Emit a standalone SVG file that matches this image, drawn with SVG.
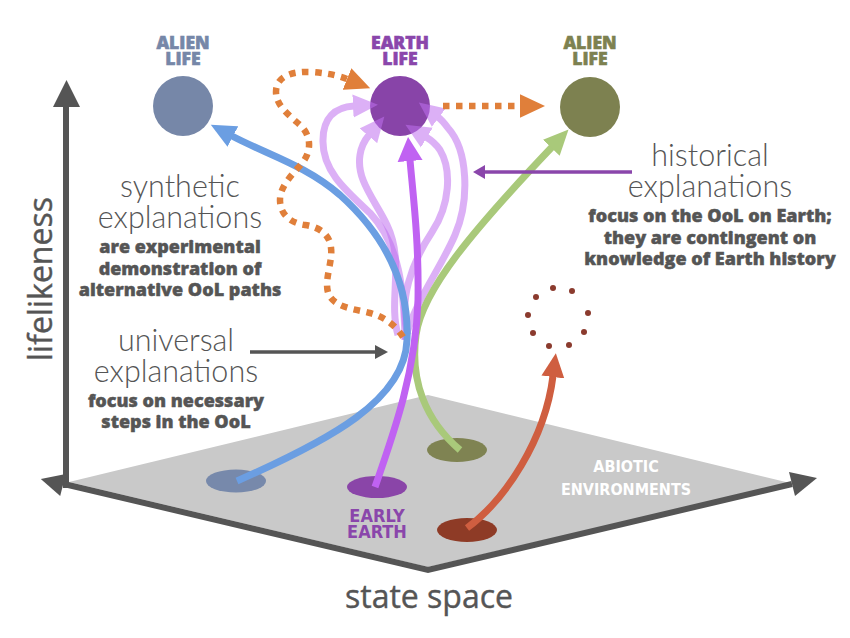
<svg xmlns="http://www.w3.org/2000/svg" width="850" height="638" viewBox="0 0 850 638">
<defs>
<style>
.light{font-family:"Lato","Open Sans","Liberation Sans",sans-serif;font-weight:300;font-size:30.5px;fill:#555;text-anchor:middle}
.heavy{font-family:"Open Sans","Noto Sans","Liberation Sans",sans-serif;font-weight:800;font-size:18px;fill:#555;stroke:#555;stroke-width:0.45px;text-anchor:middle}
.cap{font-family:"Open Sans","Noto Sans","Liberation Sans",sans-serif;font-weight:900;font-size:17.5px;stroke-width:0.6px;text-anchor:middle}
.cond{font-family:"DejaVu Sans Condensed","DejaVu Sans","Liberation Sans",sans-serif;font-stretch:condensed;font-weight:bold;text-anchor:middle}
.axis-label{font-family:"Open Sans","Noto Sans","Liberation Sans",sans-serif;font-weight:500;font-size:32px;fill:#555;stroke:#555;stroke-width:0.4px;text-anchor:middle}
.conn{fill:none;stroke-width:7}
.lav{opacity:.55}
.dotted{fill:none;stroke:#e07f3a;stroke-width:6.5;stroke-dasharray:6.5 6.5}
.axis{fill:none;stroke:#555;stroke-width:6}
</style>
<marker id="ah-blue" viewBox="0 -12 26 24" markerWidth="26" markerHeight="24" refX="1" refY="0" orient="auto" markerUnits="userSpaceOnUse"><path d="M0,-11.5 L25,0 L0,11.5 Z" fill="#6b9ee2"/></marker>
<marker id="ah-green" viewBox="0 -12 26 24" markerWidth="26" markerHeight="24" refX="1" refY="0" orient="auto" markerUnits="userSpaceOnUse"><path d="M0,-11.5 L25,0 L0,11.5 Z" fill="#a9c97a"/></marker>
<marker id="ah-violet" viewBox="0 -13 26 26" markerWidth="26" markerHeight="26" refX="1" refY="0" orient="auto" markerUnits="userSpaceOnUse"><path d="M0,-12.5 L24,0 L0,12.5 Z" fill="#c062f2"/></marker>
<marker id="ah-lav" viewBox="0 -12 26 24" markerWidth="26" markerHeight="24" refX="1" refY="0" orient="auto" markerUnits="userSpaceOnUse"><path d="M0,-11.5 L25,0 L0,11.5 Z" fill="#c070f0"/></marker>
<marker id="ah-red" viewBox="0 -12 26 24" markerWidth="26" markerHeight="24" refX="1" refY="0" orient="auto" markerUnits="userSpaceOnUse"><path d="M0,-11.5 L24,0 L0,11.5 Z" fill="#cf5e40"/></marker>
<marker id="ah-orange" viewBox="0 -12 26 24" markerWidth="26" markerHeight="24" refX="0" refY="0" orient="auto" markerUnits="userSpaceOnUse"><path d="M0,-11.7 L25,0 L0,11.7 Z" fill="#e07f3a"/></marker>
<marker id="ah-gray" viewBox="0 -8 14 16" markerWidth="14" markerHeight="16" refX="1" refY="0" orient="auto" markerUnits="userSpaceOnUse"><path d="M0,-7 L13,0 L0,7 Z" fill="#555"/></marker>
<marker id="ah-purple" viewBox="0 -8 14 16" markerWidth="14" markerHeight="16" refX="1" refY="0" orient="auto" markerUnits="userSpaceOnUse"><path d="M0,-7 L12,0 L0,7 Z" fill="#8a46ab"/></marker>
</defs>
<rect width="850" height="638" fill="#fff"/>

<g id="state-space-plane">
<polygon points="69,482 428,395 790,483 428,567" fill="#c9c9c9"/>
</g>

<g id="axes">
<path class="axis" d="M66,488 L66,105"/>
<polygon points="53,107 66.5,80 80,107" fill="#555"/>
<path class="axis" d="M64,484 L428,570 L792,484"/>
<polygon points="65.8,474 40.8,479 60.2,496" fill="#555"/>
<polygon points="789,472 817,478 795,496" fill="#555"/>
<text class="axis-label" transform="translate(52,279) rotate(-90)">lifelikeness</text>
<text class="axis-label" x="429" y="608">state space</text>
</g>

<g id="node-abiotic-environments">
<text class="cond" font-size="16" fill="#fff" x="626" y="472">ABIOTIC<tspan x="626" dy="23">ENVIRONMENTS</tspan></text>
</g>

<g id="node-env-alien-1"><ellipse cx="236" cy="481" rx="30" ry="11.5" fill="#7789ab"/></g>
<g id="node-early-earth">
<ellipse cx="377" cy="487" rx="30" ry="11" fill="#8a45a8"/>
<text class="cond" font-size="18" fill="#8a46ab" x="377" y="522">EARLY<tspan x="377" dy="16">EARTH</tspan></text>
</g>
<g id="node-env-alien-2"><ellipse cx="457" cy="450" rx="30" ry="12" fill="#7f8352"/></g>
<g id="node-env-abiotic"><ellipse cx="467" cy="530" rx="30" ry="12" fill="#8e3b26"/></g>

<g id="node-alien-life-left">
<text class="cap" fill="#7687a8" stroke="#7687a8" x="183" y="49">ALIEN<tspan x="183" dy="16">LIFE</tspan></text>
<circle cx="183" cy="106" r="30" fill="#7687a8"/>
</g>
<g id="node-earth-life">
<text class="cap" fill="#8a46ab" stroke="#8a46ab" x="400" y="49">EARTH<tspan x="400" dy="16">LIFE</tspan></text>
<circle cx="400" cy="106" r="30" fill="#8844a8"/>
</g>
<g id="node-alien-life-right">
<text class="cap" fill="#7d8150" stroke="#7d8150" x="590" y="49">ALIEN<tspan x="590" dy="16">LIFE</tspan></text>
<circle cx="590" cy="107" r="30" fill="#7d8150"/>
</g>

<g id="node-no-life">
<g fill="#8b3b2e">
<circle cx="553" cy="288" r="3"/><circle cx="572" cy="291" r="3"/><circle cx="536" cy="297" r="3"/>
<circle cx="588" cy="313" r="3"/><circle cx="528" cy="315" r="3"/><circle cx="584" cy="332" r="3"/>
<circle cx="533" cy="333" r="3"/><circle cx="549" cy="346" r="3"/><circle cx="569" cy="345" r="3"/>
</g>
</g>

<g id="node-synthetic">
<text class="light" x="180" y="197">synthetic<tspan x="180" dy="31">explanations</tspan></text>
<text class="heavy" x="180" y="253">are experimental<tspan x="180" dy="21.5">demonstration of</tspan><tspan x="180" dy="21.5">alternative OoL paths</tspan></text>
</g>
<g id="node-universal">
<text class="light" x="176" y="351">universal<tspan x="176" dy="31">explanations</tspan></text>
<text class="heavy" x="176" y="407">focus on necessary<tspan x="176" dy="21">steps in the OoL</tspan></text>
</g>
<g id="node-historical">
<text class="light" x="710" y="166">historical<tspan x="710" dy="31">explanations</tspan></text>
<text class="heavy" x="710" y="222">focus on the OoL on Earth;<tspan x="710" dy="21.5">they are contingent on</tspan><tspan x="710" dy="21.5">knowledge of Earth history</tspan></text>
</g>

<g id="connectors">
<g class="lav"><path class="conn" stroke="#c070f0" marker-end="url(#ah-lav)" d="M405,340 C404,290 400,245 370,213 C345,190 322,170 323,140 C323,118 335,107 354,106"/></g>
<g class="lav"><path class="conn" stroke="#c070f0" marker-end="url(#ah-lav)" d="M398,335 C388,300 405,262 387,225 C375,200 356,180 360,155 C361,148 364,141 369,135"/></g>
<g class="lav"><path class="conn" stroke="#c070f0" marker-end="url(#ah-lav)" d="M408,335 C398,300 412,262 432,232 C450,205 452,170 440,150 C436,144 431,140 426,137"/></g>
<g class="lav"><path class="conn" stroke="#c070f0" marker-end="url(#ah-lav)" d="M405,340 C415,300 440,270 455,235 C470,200 468,150 448,128 C445,124 442,120 438,117"/></g>
<path class="conn" stroke="#6b9ee2" marker-end="url(#ah-blue)" d="M237,481 C330,440 405,400 407,340 C409,290 390,240 340,195 C305,165 268,155 232,136"/>
<path class="dotted" marker-end="url(#ah-orange)" d="M403,337 C396,326 385,317 370,313 C355,309 336,308 329,295 C323,282 333,262 331,248 C330,235 320,227 305,225 C290,223 280,214 280,200 C280,185 295,172 303,162 C312,150 311,135 300,125 C290,116 276,106 276,92 C276,76 292,71 312,72 C325,73 337,75 347,79"/>
<path class="dotted" marker-end="url(#ah-orange)" d="M443,106 L520,106"/>
<path class="conn" stroke="#a9c97a" marker-end="url(#ah-green)" d="M460,450 C425,420 410,380 416,335 C422,290 475,228 552,147"/>
<path class="conn" stroke="#c062f2" marker-end="url(#ah-violet)" d="M375,487 C395,430 416,370 418,300 C419,240 413,195 410,160"/>
<path class="conn" stroke="#cf5e40" marker-end="url(#ah-red)" d="M467,528 C505,500 545,440 553,376"/>
<path fill="none" stroke="#555" stroke-width="3.5" marker-end="url(#ah-gray)" d="M250,352 L376,352"/>
<path fill="none" stroke="#8a46ab" stroke-width="3.5" marker-end="url(#ah-purple)" d="M632,172 L484,172"/>
</g>
</svg>
